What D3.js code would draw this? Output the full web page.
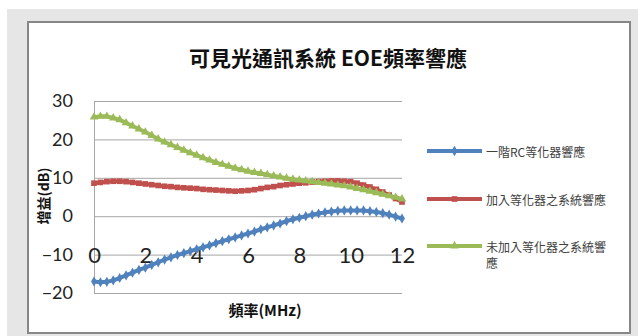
<!DOCTYPE html>
<html>
<head>
<meta charset="utf-8">
<script src="https://cdn.jsdelivr.net/npm/d3@7"></script>
<style>
    body { margin: 0; background: #ffffff; }
    svg { display: block; }
</style>
</head>
<body>
<div id="chart"></div>
<script>
"use strict";

// frequency (MHz)
let freq = [0, 0.25, 0.5, 0.75, 1, 1.25, 1.5, 1.75, 2, 2.25, 2.5, 2.75, 3, 3.25, 3.5, 3.75,
    4, 4.25, 4.5, 4.75, 5, 5.25, 5.5, 5.75, 6, 6.25, 6.5, 6.75, 7, 7.25, 7.5, 7.75,
    8, 8.25, 8.5, 8.75, 9, 9.25, 9.5, 9.75, 10, 10.25, 10.5, 10.75, 11, 11.25, 11.5, 11.75, 12];

// gain (dB) for each series
let gainRc = [-17.0, -17.2, -17.1, -16.7, -16.1, -15.4, -14.7, -14.0, -13.4, -12.7, -12.0, -11.3, -10.7, -10.1, -9.6, -9.1,
    -8.6, -8.1, -7.6, -7.0, -6.5, -6.0, -5.5, -5.0, -4.5, -4.0, -3.4, -2.9, -2.4, -1.9, -1.3, -0.8,
    -0.4, 0.0, 0.4, 0.7, 1.0, 1.2, 1.4, 1.5, 1.5, 1.5, 1.5, 1.3, 1.1, 0.8, 0.4, -0.1, -0.6];
let gainEq = [8.6, 8.8, 9.0, 9.1, 9.1, 9.0, 8.8, 8.6, 8.4, 8.2, 8.0, 7.8, 7.7, 7.5, 7.4, 7.3,
    7.2, 7.0, 6.9, 6.8, 6.7, 6.6, 6.5, 6.6, 6.7, 6.9, 7.2, 7.5, 7.7, 8.0, 8.2, 8.4,
    8.6, 8.7, 8.9, 9.0, 9.1, 9.2, 9.2, 9.1, 9.0, 8.6, 8.1, 7.6, 7.0, 6.3, 5.5, 4.6, 3.7];
let gainNoEq = [25.8, 26.0, 26.0, 25.6, 25.1, 24.3, 23.5, 22.7, 21.9, 21.0, 20.1, 19.3, 18.6, 17.9, 17.2, 16.5,
    15.9, 15.2, 14.6, 14.0, 13.5, 13.0, 12.5, 12.1, 11.7, 11.4, 11.1, 10.8, 10.5, 10.2, 9.9, 9.6,
    9.4, 9.2, 9.0, 8.8, 8.6, 8.4, 8.1, 7.9, 7.6, 7.2, 6.9, 6.5, 6.1, 5.7, 5.3, 4.9, 4.5];

let seriesNames = ["一階RC等化器響應", "加入等化器之系統響應", "未加入等化器之系統響應"];
let xTicks = [0, 2, 4, 6, 8, 10, 12];
let yTicks = [-20, -10, 0, 10, 20, 30];

let chartTitle = "可見光通訊系統 EOE頻率響應";
let xTitle = "頻率(MHz)";
let yTitle = "增益(dB)";

let colors = ["#4f81bd", "#c0504d", "#9bbb59"];
let symbols = [d3.symbolDiamond, d3.symbolSquare, d3.symbolTriangle];
let latin = "Lato, 'Noto Sans CJK TC', sans-serif";
let cjk = "'Noto Sans CJK TC', 'Noto Sans CJK SC', sans-serif";

function draw() {
    let width = 638;
    let height = 336;

    let svg = d3.select("#chart").append("svg")
        .attr("width", width)
        .attr("height", height);

    // gray surround and chart frame
    svg.append("rect")
        .attr("x", 7).attr("y", 9)
        .attr("width", width - 7).attr("height", height - 9)
        .style("fill", "#e6e6e6");
    svg.append("rect")
        .attr("x", 28).attr("y", 22)
        .attr("width", 602).attr("height", 311)
        .style("fill", "#ffffff")
        .style("stroke", "#878787")
        .style("stroke-width", 2);

    // plot area
    let plot = { left: 94, right: 402, top: 101, bottom: 293 };

    let xScale = d3.scaleLinear().domain([0, 12]).range([plot.left, plot.right]);
    let yScale = d3.scaleLinear().domain([-20, 30]).range([plot.bottom, plot.top]);

    // horizontal grid lines
    let yAxis = d3.axisLeft(yScale)
        .tickValues(yTicks)
        .tickSizeInner(-(plot.right - plot.left))
        .tickSizeOuter(0)
        .tickPadding(21)
        .tickFormat(d3.format("d"));

    let yAxisG = svg.append("g")
        .attr("transform", `translate(${plot.left},0)`)
        .call(yAxis);
    yAxisG.select(".domain").style("stroke", "#a6a6a6");
    yAxisG.selectAll(".tick line").style("stroke", "#a6a6a6");
    yAxisG.selectAll(".tick text")
        .style("font-family", latin)
        .style("font-size", "18px")
        .style("fill", "#222");

    // x tick labels sit on the -10 line
    let xAxis = d3.axisBottom(xScale)
        .tickValues(xTicks)
        .tickSize(0)
        .tickPadding(0)
        .tickFormat(d3.format("d"));

    let xAxisG = svg.append("g")
        .attr("transform", `translate(0,${yScale(-10)})`)
        .call(xAxis);
    xAxisG.select(".domain").remove();
    xAxisG.selectAll(".tick text")
        .attr("y", 0)
        .attr("dy", "0.36em")
        .style("font-family", latin)
        .style("font-size", "22px")
        .style("fill", "#222");

    // series lines with markers
    let series = [gainRc, gainEq, gainNoEq];
    let line = d3.line()
        .x((d, i) => xScale(freq[i]))
        .y(d => yScale(d));

    series.forEach((values, k) => {
        svg.append("path")
            .datum(values)
            .attr("d", line)
            .style("fill", "none")
            .style("stroke", colors[k])
            .style("stroke-width", 4)
            .style("stroke-linejoin", "round");

        svg.selectAll(`.dot${k}`)
            .data(values)
            .enter()
            .append("path")
            .attr("class", `dot${k}`)
            .attr("d", d3.symbol().type(symbols[k]).size(k === 0 ? 30 : 32))
            .attr("transform", (d, i) => `translate(${xScale(freq[i])},${yScale(d)})`)
            .style("fill", colors[k]);
    });

    // title
    svg.append("text")
        .attr("x", 328)
        .attr("y", 57)
        .attr("dominant-baseline", "central")
        .style("text-anchor", "middle")
        .style("font-family", cjk)
        .style("font-size", "21px")
        .style("font-weight", "bold")
        .style("fill", "#111")
        .text(chartTitle);

    // axis titles
    svg.append("text")
        .attr("x", 265)
        .attr("y", 309)
        .attr("dominant-baseline", "central")
        .style("text-anchor", "middle")
        .style("font-family", cjk)
        .style("font-size", "15px")
        .style("font-weight", "bold")
        .style("fill", "#111")
        .text(xTitle);

    svg.append("text")
        .attr("transform", "translate(43,196) rotate(-90)")
        .attr("dominant-baseline", "central")
        .style("text-anchor", "middle")
        .style("font-family", cjk)
        .style("font-size", "14px")
        .style("font-weight", "bold")
        .style("fill", "#111")
        .text(yTitle);

    // legend
    let legendY = [151, 199, 246];
    let legend = svg.selectAll(".legend")
        .data(seriesNames)
        .enter()
        .append("g")
        .attr("class", "legend")
        .attr("transform", (d, i) => `translate(427,${legendY[i]})`);

    legend.append("line")
        .attr("x1", 0).attr("x2", 55)
        .style("stroke", (d, i) => colors[i])
        .style("stroke-width", 4);

    legend.append("path")
        .attr("d", (d, i) => d3.symbol().type(symbols[i]).size(32)())
        .attr("transform", "translate(27.5,0)")
        .style("fill", (d, i) => colors[i]);

    // last label wraps its final character
    legend.append("text")
        .attr("x", 59)
        .attr("y", 0)
        .attr("dominant-baseline", "central")
        .style("font-family", cjk)
        .style("font-size", "12px")
        .style("fill", "#404040")
        .each(function (d, i) {
            let lines = i === 2 ? [d.slice(0, -1), d.slice(-1)] : [d];
            d3.select(this).selectAll("tspan")
                .data(lines)
                .enter()
                .append("tspan")
                .attr("x", 59)
                .attr("dy", (t, j) => j === 0 ? 0 : 16)
                .text(t => t);
        });
}

draw();
</script>
</body>
</html>
